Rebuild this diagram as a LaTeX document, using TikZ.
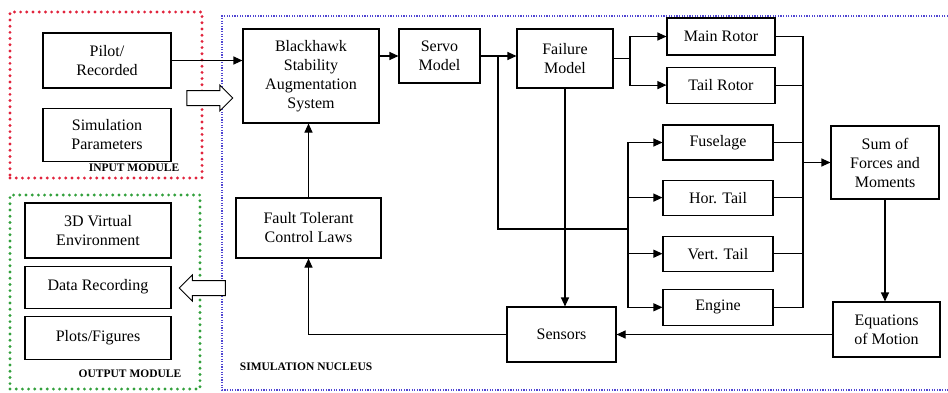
\documentclass[tikz,border=0pt]{standalone}
\usepackage{fontspec}
\setmainfont{Liberation Serif}
\usepackage{tikz}
\usetikzlibrary{positioning,arrows.meta,shapes.arrows}
\definecolor{inred}{RGB}{225,35,60}
\definecolor{outgreen}{RGB}{50,160,60}
\definecolor{nucblue}{RGB}{80,70,210}

\begin{document}
\begin{tikzpicture}[x=1pt,y=1pt,->,>={Triangle[length=9pt,width=8pt]},line width=1.1pt,
      block node/.style={rectangle,draw,line width=1.1pt,align=center,inner sep=2pt,font=\fontsize{16}{19}\selectfont},
      module label/.style={font=\fontsize{11.5}{13}\selectfont\bfseries},
      dot frame/.style={draw=#1,line width=3.2pt,line cap=round,dash pattern=on 0pt off 6.2pt,inner sep=0pt},
      nucleus frame/.style={draw=nucblue,line width=1.2pt,dash pattern=on 1.2pt off 1.4pt},
      hollow arrow/.style={single arrow,draw,line width=1pt,fill=white,minimum height=46pt,inner xsep=0pt,inner ysep=7pt,
        single arrow head extend=5.5pt}]
      \useasboundingbox (0,0) rectangle (948,392);

      % module frames
      \node[dot frame=inred,minimum width=192,minimum height=166] (inmod) at (106,297) {};
      \node[dot frame=outgreen,minimum width=190,minimum height=194] (outmod) at (105,100) {};
      \draw[-,nucleus frame] (948,376) -| (222,2) -- (948,2);

      \node[module label] (inlabel) at (134,224) {INPUT MODULE};
      \node[module label] (outlabel) at (130,18) {OUTPUT MODULE};
      \node[module label,anchor=west] (nuclabel) at (236,25) {SIMULATION NUCLEUS};

      % input / output modules
      \node[block node,minimum width=128,minimum height=55] (pilot) at (107,331.5) {Pilot/\\Recorded};
      \node[block node,minimum width=128,minimum height=53] (simpar) [below=19 of pilot] {Simulation\\Parameters};
      \node[block node,minimum width=146,minimum height=55] (vr3d) at (98,161.5) {3D Virtual\\Environment};
      \node[block node,minimum width=146,minimum height=42] (datarec) [below=7 of vr3d] {Data Recording};
      \node[block node,minimum width=146,minimum height=43] (plots) [below=7 of datarec] {Plots/Figures};

      \node[hollow arrow] (inarrow) at (206,294) {};
      \node[hollow arrow,shape border rotate=180] (outarrow) at (206,104) {};

      % simulation nucleus
      \node[block node,minimum width=136,minimum height=94] (sas) at (311,316) {Blackhawk\\Stability\\Augmentation\\System};
      \node[block node,minimum width=81,minimum height=54] (servo) at (439.5,336) {Servo\\Model};
      \node[block node,minimum width=96,minimum height=59] (failure) at (565,333.5) {Failure\\Model};
      \node[block node,minimum width=108,minimum height=37] (mainrotor) at (721,355.5) {Main Rotor};
      \node[block node,minimum width=108,minimum height=36] (tailrotor) [below=11 of mainrotor] {Tail Rotor};
      \node[block node,minimum width=110,minimum height=35] (fuselage) at (718,249.5) {Fuselage};
      \node[block node,minimum width=110,minimum height=35] (hortail) [below=19 of fuselage] {Hor. Tail};
      \node[block node,minimum width=110,minimum height=35] (verttail) [below=20 of hortail] {Vert. Tail};
      \node[block node,minimum width=110,minimum height=36] (engine) [below=17 of verttail] {Engine};
      \node[block node,minimum width=108,minimum height=73] (sumfm) at (885,229.5) {Sum of\\Forces and\\Moments};
      \node[block node,minimum width=107,minimum height=55] (eom) at (886.5,62.5) {Equations\\of Motion};
      \node[block node,minimum width=109,minimum height=55] (sensors) at (561.5,57.5) {Sensors};
      \node[block node,minimum width=145,minimum height=60] (ftc) at (308.5,164) {Fault Tolerant\\Control Laws};

      \coordinate (sb) at (498,336);
      \coordinate (lbus) at (628,163);
      \coordinate (fb) at (630,333.5);
      \coordinate (rbus) at (803,229.5);

      \draw (pilot) -- (pilot -| sas.west);
      \draw (sas.east |- servo) -- (servo);
      \draw (servo) -- (servo -| failure.west);
      \draw[-] (sb) |- (lbus);
      \draw (lbus) |- (fuselage);
      \draw (lbus) |- (hortail);
      \draw (lbus) |- (verttail);
      \draw (lbus) |- (engine);
      \draw[-] (failure) -- (fb);
      \draw (fb) |- (mainrotor);
      \draw (fb) |- (tailrotor);
      \draw[-] (mainrotor) -| (rbus);
      \draw[-] (tailrotor) -| (rbus);
      \draw[-] (fuselage) -| (rbus);
      \draw[-] (hortail) -| (rbus);
      \draw[-] (verttail) -| (rbus);
      \draw[-] (engine) -| (rbus);
      \draw (rbus) -- (sumfm);
      \draw (sumfm.south) -- (sumfm.south |- eom.north);
      \draw (eom.west |- sensors) -- (sensors);
      \draw (failure) -- (failure |- sensors.north);
      \draw (sensors) -| (ftc);
      \draw (ftc) -- (ftc |- sas.south);
\end{tikzpicture}
\end{document}
